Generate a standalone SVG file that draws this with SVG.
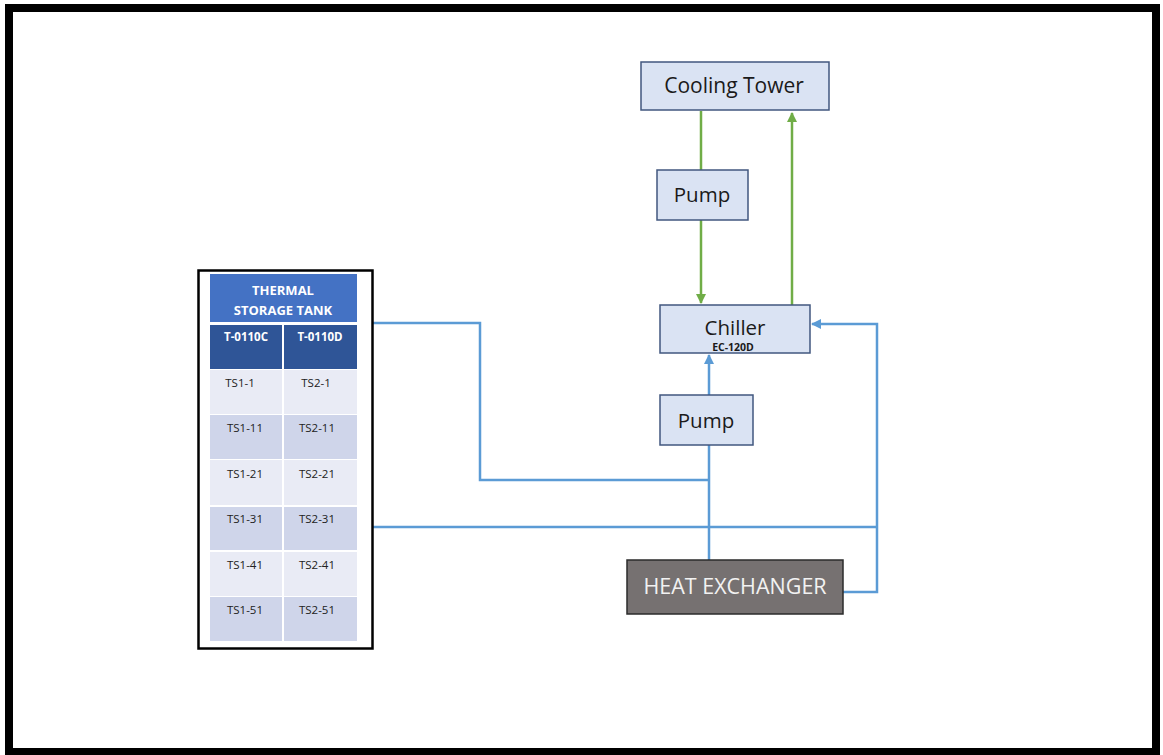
<svg xmlns="http://www.w3.org/2000/svg" width="1163" height="755" viewBox="0 0 1163 755">
  <style>
    .box { fill: #DAE3F3; stroke: #41577F; stroke-width: 1.5; }
    .lbl { font-family: "Open Sans", "Liberation Sans", sans-serif; fill: #1a1a1a; text-anchor: middle; }
    .cell { font-family: "Open Sans", "Liberation Sans", sans-serif; font-size: 11.5px; fill: #222; text-anchor: middle; }
    .hdr { font-family: "Open Sans", "Liberation Sans", sans-serif; font-size: 13px; font-weight: bold; fill: #ffffff; text-anchor: middle; }
    .blue { fill: none; stroke: #5B9BD5; stroke-width: 2.5; stroke-linejoin: miter; }
    .green { fill: none; stroke: #70AD47; stroke-width: 2.5; }
  </style>
  <defs>
    <marker id="arrBlue" viewBox="0 0 10 10" refX="9" refY="5" markerWidth="4" markerHeight="4" orient="auto" markerUnits="strokeWidth">
      <path d="M0,0 L10,5 L0,10 z" fill="#5B9BD5"/>
    </marker>
    <marker id="arrGreen" viewBox="0 0 10 10" refX="9" refY="5" markerWidth="4" markerHeight="4" orient="auto" markerUnits="strokeWidth">
      <path d="M0,0 L10,5 L0,10 z" fill="#70AD47"/>
    </marker>
  </defs>

  <!-- page frame -->
  <rect x="0" y="0" width="1163" height="755" fill="#ffffff"/>
  <rect x="9" y="8" width="1147" height="744" fill="none" stroke="#000" stroke-width="8"/>

  <!-- connectors -->
  <g id="connectors">
    <!-- condenser loop -->
    <path class="green" d="M701,111 V170"/>
    <path class="green" d="M701,220 V303" marker-end="url(#arrGreen)"/>
    <path class="green" d="M792,305 V113" marker-end="url(#arrGreen)"/>
    <!-- chilled water loop -->
    <path class="blue" d="M709,560 V445"/>
    <path class="blue" d="M709,395 V355" marker-end="url(#arrBlue)"/>
    <path class="blue" d="M373,323 H480 V480 H709"/>
    <path class="blue" d="M373,527 H877"/>
    <path class="blue" d="M843,592 H877 V324 H812" marker-end="url(#arrBlue)"/>
  </g>

  <!-- thermal storage tank -->
  <g id="tank">
    <rect x="198.5" y="270.5" width="174" height="378" fill="#ffffff" stroke="#000" stroke-width="2.5"/>
    <rect x="210" y="274" width="147" height="48" fill="#4472C4"/>
    <text class="hdr" x="283" y="295">THERMAL</text>
    <text class="hdr" x="283" y="315">STORAGE TANK</text>
    <rect x="210" y="325" width="72" height="44" fill="#2F5597"/>
    <rect x="284" y="325" width="73" height="44" fill="#2F5597"/>
    <text class="hdr" x="246" y="341" font-size="11.5" style="font-size:11.5px">T-0110C</text>
    <text class="hdr" x="320" y="341" font-size="11.5" style="font-size:11.5px">T-0110D</text>

    <rect x="210" y="370" width="72" height="44" fill="#E9EBF5"/>
    <rect x="284" y="370" width="73" height="44" fill="#E9EBF5"/>
    <rect x="210" y="415" width="72" height="44" fill="#CFD5EA"/>
    <rect x="284" y="415" width="73" height="44" fill="#CFD5EA"/>
    <rect x="210" y="460" width="72" height="45" fill="#E9EBF5"/>
    <rect x="284" y="460" width="73" height="45" fill="#E9EBF5"/>
    <rect x="210" y="507" width="72" height="43" fill="#CFD5EA"/>
    <rect x="284" y="507" width="73" height="43" fill="#CFD5EA"/>
    <rect x="210" y="552" width="72" height="44" fill="#E9EBF5"/>
    <rect x="284" y="552" width="73" height="44" fill="#E9EBF5"/>
    <rect x="210" y="597" width="72" height="44" fill="#CFD5EA"/>
    <rect x="284" y="597" width="73" height="44" fill="#CFD5EA"/>

    <text class="cell" x="240" y="387">TS1-1</text>
    <text class="cell" x="316" y="387">TS2-1</text>
    <text class="cell" x="245" y="432">TS1-11</text>
    <text class="cell" x="317" y="432">TS2-11</text>
    <text class="cell" x="245" y="478">TS1-21</text>
    <text class="cell" x="317" y="478">TS2-21</text>
    <text class="cell" x="245" y="523">TS1-31</text>
    <text class="cell" x="317" y="523">TS2-31</text>
    <text class="cell" x="245" y="569">TS1-41</text>
    <text class="cell" x="317" y="569">TS2-41</text>
    <text class="cell" x="245" y="614">TS1-51</text>
    <text class="cell" x="317" y="614">TS2-51</text>
  </g>

  <!-- cooling tower -->
  <g id="cooling-tower">
    <rect class="box" x="641" y="62" width="188" height="48"/>
    <text class="lbl" x="734" y="93" font-size="21">Cooling Tower</text>
  </g>

  <!-- condenser pump -->
  <g id="pump-condenser">
    <rect class="box" x="657" y="170" width="91" height="50"/>
    <text class="lbl" x="702" y="202" font-size="20.5">Pump</text>
  </g>

  <!-- chiller -->
  <g id="chiller">
    <rect class="box" x="660" y="305" width="150" height="48"/>
    <text class="lbl" x="735" y="335" font-size="20.5">Chiller</text>
    <text class="lbl" x="733" y="351" font-size="10.5" font-weight="bold">EC-120D</text>
  </g>

  <!-- chilled water pump -->
  <g id="pump-chilled">
    <rect class="box" x="660" y="395" width="93" height="50"/>
    <text class="lbl" x="706" y="428" font-size="20.5">Pump</text>
  </g>

  <!-- heat exchanger -->
  <g id="heat-exchanger">
    <rect x="627" y="560" width="216" height="54" fill="#767171" stroke="#2b2b2b" stroke-width="1.5"/>
    <text class="lbl" x="735" y="594" font-size="21.5" style="fill:#f2f2f2">HEAT EXCHANGER</text>
  </g>
</svg>
